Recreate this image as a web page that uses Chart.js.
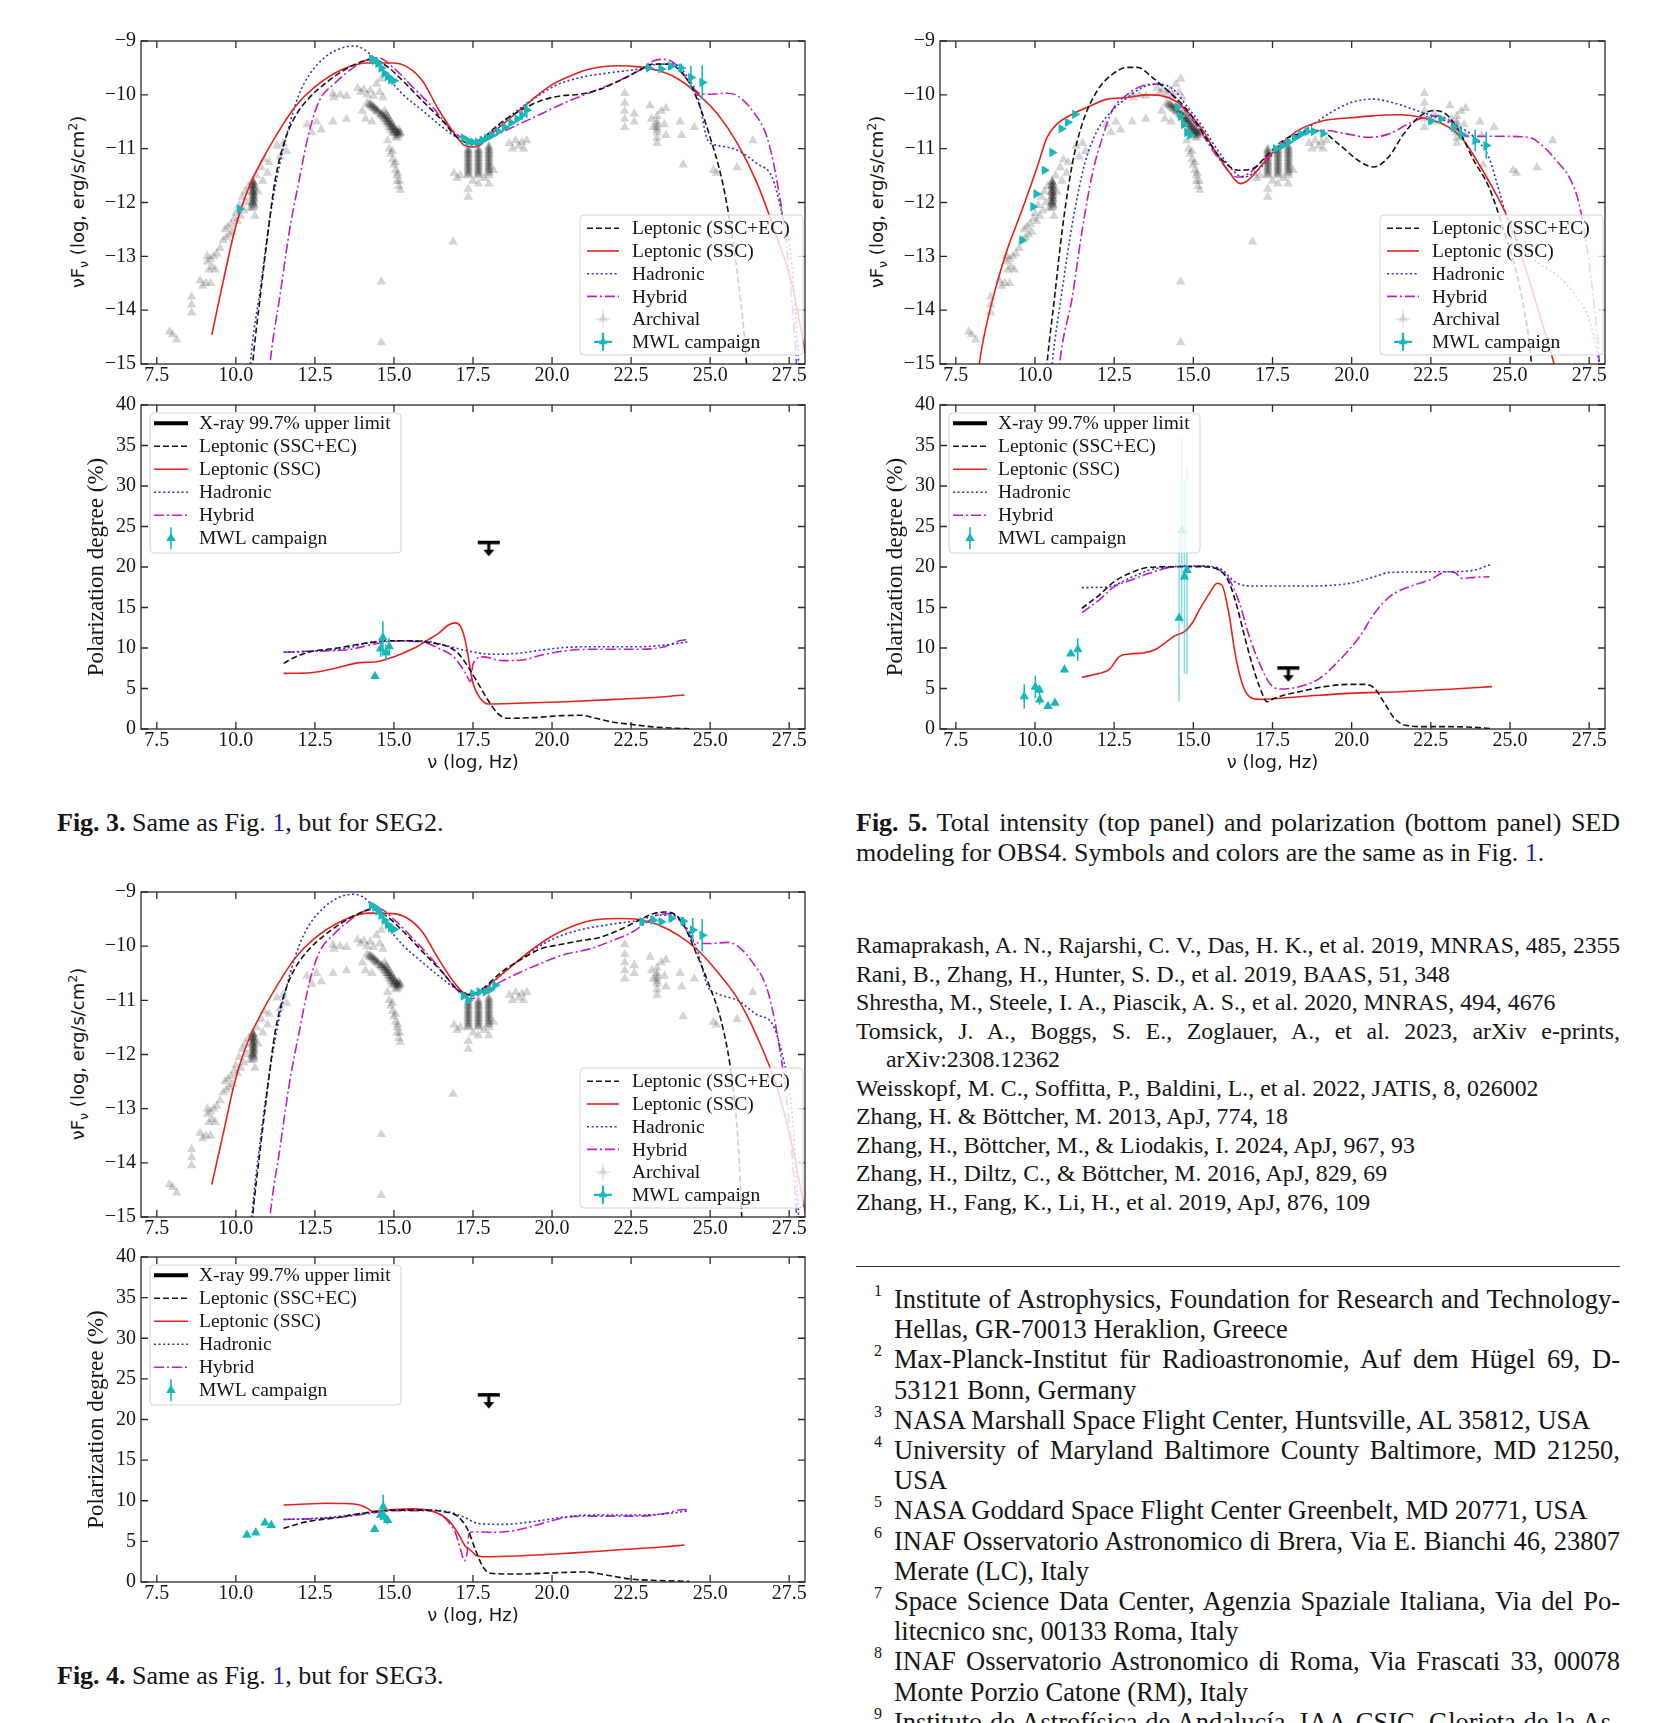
<!DOCTYPE html>
<html>
<head>
<meta charset="utf-8">
<title>SED and polarization modeling: SEG2, SEG3, OBS4</title>
<script src="https://cdn.jsdelivr.net/npm/chart.js@4.4.0/dist/chart.umd.min.js"></script>
<style>
  html, body { margin: 0; padding: 0; background: #fff; }
  body { width: 1662px; height: 1723px; position: relative; overflow: hidden; font-family: 'Liberation Serif', serif; color: #151515; }
  canvas.panel { position: absolute; }
  .ytitle { position: absolute; font-family: 'DejaVu Sans', sans-serif; font-size: 18px; white-space: nowrap; transform: translate(-50%, -50%) rotate(-90deg); }
  .ytitle sub, .ytitle sup { font-size: 70%; line-height: 0; }
  .cap { position: absolute; font-size: 26px; line-height: 30px; white-space: nowrap; }
  .cap div { white-space: nowrap; }
  .lnk { color: #1f1fb4; }
  .j { text-align: justify; text-align-last: justify; white-space: normal !important; }
  #refs { position: absolute; left: 856px; top: 931px; width: 764px; font-size: 23.8px; line-height: 28.5px; }
  #refs div { white-space: nowrap; }
  #refs .ind { padding-left: 30px; }
  #rule { position: absolute; left: 856px; top: 1266px; width: 764px; height: 1px; background: #333; }
  #fns { position: absolute; left: 894px; top: 1284px; width: 726px; font-size: 26.5px; line-height: 30.2px; }
  #fns div { white-space: nowrap; }
  #fns .fn { position: relative; }
  #fns .n { position: absolute; left: -20px; top: -8px; font-size: 16px; }
</style>
</head>
<body>

<div class="ytitle" style="left:77px;top:202px">νF<sub>ν</sub> (log, erg/s/cm<sup>2</sup>)</div>
<div class="ytitle" style="left:876px;top:202px">νF<sub>ν</sub> (log, erg/s/cm<sup>2</sup>)</div>
<div class="ytitle" style="left:77px;top:1054px">νF<sub>ν</sub> (log, erg/s/cm<sup>2</sup>)</div>

<div class="cap" style="left:57px;top:808px"><b>Fig. 3.</b> Same as Fig. <span class="lnk">1</span>, but for SEG2.</div>
<div class="cap" style="left:57px;top:1661px"><b>Fig. 4.</b> Same as Fig. <span class="lnk">1</span>, but for SEG3.</div>
<div class="cap" style="left:856px;top:808px;width:764px">
  <div class="j"><b>Fig. 5.</b> Total intensity (top panel) and polarization (bottom panel) SED</div>
  <div>modeling for OBS4. Symbols and colors are the same as in Fig. <span class="lnk">1</span>.</div>
</div>

<div id="refs">
  <div class="j">Ramaprakash, A. N., Rajarshi, C. V., Das, H. K., et al. 2019, MNRAS, 485, 2355</div>
  <div>Rani, B., Zhang, H., Hunter, S. D., et al. 2019, BAAS, 51, 348</div>
  <div>Shrestha, M., Steele, I. A., Piascik, A. S., et al. 2020, MNRAS, 494, 4676</div>
  <div class="j">Tomsick, J. A., Boggs, S. E., Zoglauer, A., et al. 2023, arXiv e-prints,</div>
  <div class="ind">arXiv:2308.12362</div>
  <div>Weisskopf, M. C., Soffitta, P., Baldini, L., et al. 2022, JATIS, 8, 026002</div>
  <div>Zhang, H. &amp; Böttcher, M. 2013, ApJ, 774, 18</div>
  <div>Zhang, H., Böttcher, M., &amp; Liodakis, I. 2024, ApJ, 967, 93</div>
  <div>Zhang, H., Diltz, C., &amp; Böttcher, M. 2016, ApJ, 829, 69</div>
  <div>Zhang, H., Fang, K., Li, H., et al. 2019, ApJ, 876, 109</div>
</div>

<div id="rule"></div>

<div id="fns">
  <div class="fn"><span class="n">1</span><div class="j">Institute of Astrophysics, Foundation for Research and Technology-</div><div>Hellas, GR-70013 Heraklion, Greece</div></div>
  <div class="fn"><span class="n">2</span><div class="j">Max-Planck-Institut für Radioastronomie, Auf dem Hügel 69, D-</div><div>53121 Bonn, Germany</div></div>
  <div class="fn"><span class="n">3</span><div>NASA Marshall Space Flight Center, Huntsville, AL 35812, USA</div></div>
  <div class="fn"><span class="n">4</span><div class="j">University of Maryland Baltimore County Baltimore, MD 21250,</div><div>USA</div></div>
  <div class="fn"><span class="n">5</span><div>NASA Goddard Space Flight Center Greenbelt, MD 20771, USA</div></div>
  <div class="fn"><span class="n">6</span><div class="j">INAF Osservatorio Astronomico di Brera, Via E. Bianchi 46, 23807</div><div>Merate (LC), Italy</div></div>
  <div class="fn"><span class="n">7</span><div class="j">Space Science Data Center, Agenzia Spaziale Italiana, Via del Po-</div><div>litecnico snc, 00133 Roma, Italy</div></div>
  <div class="fn"><span class="n">8</span><div class="j">INAF Osservatorio Astronomico di Roma, Via Frascati 33, 00078</div><div>Monte Porzio Catone (RM), Italy</div></div>
  <div class="fn"><span class="n">9</span><div class="j">Instituto de Astrofísica de Andalucía, IAA-CSIC, Glorieta de la As-</div></div>
</div>

<script>
// x = log10(nu / Hz); SED panels: log10(nuFnu / erg s^-1 cm^-2); polarization panels: PD in %
const xTicks = [7.5, 10, 12.5, 15, 17.5, 20, 22.5, 25, 27.5];
const sedTicks = [-15, -14, -13, -12, -11, -10, -9];
const polTicks = [0, 5, 10, 15, 20, 25, 30, 35, 40];

// archival data (same in every SED panel); dense stacks
const archival = [
  [7.9,-14.4],[8.0,-14.45],[8.13,-14.55],[8.6,-13.75],[8.6,-13.9],[8.6,-14.05],[8.87,-13.45],[8.95,-13.55],[9.05,-13.5],
  [9.1,-13.0],[9.15,-13.25],[9.2,-13.05],[9.25,-13.2],[9.3,-13.0],[9.35,-13.25],[9.4,-12.95],[9.1,-13.1],[9.2,-13.5],
  [9.5,-12.85],[9.6,-12.7],[9.66,-12.5],[9.7,-12.65],[9.75,-12.45],[9.8,-12.6],[9.85,-12.4],[9.9,-12.55],[9.95,-12.3],
  [10.0,-12.2],[10.05,-12.35],[10.1,-12.05],[10.15,-12.25],[10.2,-11.9],[10.25,-12.15],[10.3,-11.8],[10.35,-12.0],
  [10.4,-11.7],[10.45,-12.1],[10.6,-12.25],[10.65,-11.5],[10.7,-11.8],[10.8,-11.35],[10.85,-11.6],[10.9,-11.2],
  [11.0,-11.45],[11.05,-11.25],[11.3,-10.95],[11.4,-11.15],[11.5,-10.9],[11.6,-11.05],[12.25,-10.55],[12.4,-10.7],
  [12.55,-10.5],[12.7,-10.65],[13.07,-9.98],[13.1,-10.05],[13.07,-10.5],[13.3,-10.0],[13.5,-10.02],[13.5,-10.45],
  [13.85,-9.88],[13.95,-9.95],[14.05,-9.9],[14.15,-10.0],[14.25,-9.92],[14.35,-10.02],[14.0,-10.3],[14.1,-10.45],
  [14.3,-10.5],[14.45,-9.8],[14.55,-9.95],[14.6,-9.7],[14.65,-10.05],
  // radio stack at 10.55
  [10.53,-11.6],[10.57,-11.65],[10.53,-11.7],[10.57,-11.75],[10.53,-11.8],[10.57,-11.85],[10.53,-11.9],[10.57,-11.95],
  [10.53,-12.0],[10.57,-12.05],[10.53,-12.1],[10.55,-11.62],[10.55,-11.72],[10.55,-11.82],[10.55,-11.92],[10.55,-12.02],
  [10.55,-11.68],[10.55,-11.78],[10.55,-11.88],[10.55,-11.98],[10.54,-11.63],[10.56,-11.73],[10.54,-11.83],[10.56,-11.93],
  [10.54,-12.03],[10.56,-11.68],[10.54,-11.78],[10.56,-11.88],[10.54,-11.98],[10.56,-12.08],
  // optical/UV chain 14.15 - 15.2
  [14.15,-10.15],[14.2,-10.18],[14.25,-10.2],[14.3,-10.22],[14.35,-10.25],[14.4,-10.27],[14.45,-10.3],[14.5,-10.32],
  [14.55,-10.35],[14.6,-10.38],[14.65,-10.4],[14.7,-10.3],[14.7,-10.45],[14.75,-10.35],[14.75,-10.5],[14.8,-10.4],
  [14.8,-10.55],[14.85,-10.45],[14.85,-10.6],[14.9,-10.5],[14.9,-10.65],[14.95,-10.55],[14.95,-10.7],[15.0,-10.6],
  [15.0,-10.72],[15.05,-10.65],[15.05,-10.78],[15.1,-10.7],[15.1,-10.8],[15.15,-10.75],[15.15,-10.65],[15.2,-10.7],
  [14.72,-10.4],[14.78,-10.45],[14.82,-10.5],[14.88,-10.55],[14.92,-10.6],[14.98,-10.65],[15.02,-10.68],[15.08,-10.72],
  [15.12,-10.75],[15.18,-10.72],[14.3,-10.2],[14.4,-10.25],[14.5,-10.3],[14.6,-10.35],[14.62,-10.36],[14.68,-10.42],
  [14.74,-10.46],[14.8,-10.5],[14.86,-10.53],[14.92,-10.58],[14.98,-10.62],[15.04,-10.66],[15.1,-10.68],[15.16,-10.7],
  [14.45,-10.28],[14.35,-10.22],[14.25,-10.17],
  [14.8,-10.85],[14.85,-11.0],[14.9,-11.1],[14.95,-11.2],[15.0,-11.3],[15.05,-11.4],[15.1,-11.5],[15.1,-11.6],
  [15.15,-11.7],[15.2,-11.77],[14.95,-11.05],[15.05,-11.25],[15.12,-11.45],[15.18,-11.6],
  // outliers
  [14.6,-13.47],[14.6,-14.6],[16.87,-12.73],
  // X-ray stacks at 17.35, 17.67, 18.0
  [17.35,-11.0],[17.35,-11.05],[17.35,-11.1],[17.35,-11.15],[17.35,-11.2],[17.35,-11.25],[17.35,-11.3],[17.35,-11.35],
  [17.35,-11.4],[17.35,-11.45],[17.35,-11.5],[17.67,-11.0],[17.67,-11.05],[17.67,-11.1],[17.67,-11.15],[17.67,-11.2],
  [17.67,-11.25],[17.67,-11.3],[17.67,-11.35],[17.67,-11.4],[17.67,-11.45],[17.67,-11.5],[18.0,-10.95],[18.0,-11.0],
  [18.0,-11.05],[18.0,-11.1],[18.0,-11.15],[18.0,-11.2],[18.0,-11.25],[18.0,-11.3],[18.0,-11.35],[18.0,-11.4],
  [18.0,-11.45],[18.0,-11.5],[17.35,-11.12],[17.35,-11.28],[17.67,-11.12],[17.67,-11.28],[18.0,-11.12],[18.0,-11.28],
  [17.35,-11.03],[17.35,-11.08],[17.35,-11.18],[17.35,-11.23],[17.35,-11.33],[17.35,-11.38],[17.35,-11.43],[17.35,-11.48],
  [17.67,-11.03],[17.67,-11.08],[17.67,-11.18],[17.67,-11.23],[17.67,-11.33],[17.67,-11.38],[17.67,-11.43],[17.67,-11.48],
  [18.0,-10.98],[18.0,-11.03],[18.0,-11.08],[18.0,-11.18],[18.0,-11.23],[18.0,-11.33],[18.0,-11.38],[18.0,-11.43],
  [16.9,-11.45],[17.0,-11.55],[17.1,-11.5],[17.35,-11.75],[17.35,-11.9],[17.5,-11.6],[17.67,-11.65],[17.85,-11.55],
  [18.0,-11.65],[18.15,-11.4],
  [18.65,-10.9],[18.75,-11.0],[18.85,-10.85],[18.95,-10.95],[19.05,-10.88],[19.2,-10.85],[19.1,-11.0],
  // gamma rays
  [22.3,-9.97],[22.3,-10.15],[22.3,-10.3],[22.3,-10.45],[22.3,-10.6],[22.6,-10.35],[22.6,-10.5],
  [23.1,-10.2],[23.15,-10.45],[23.2,-10.6],[23.32,-10.4],[23.32,-10.5],[23.32,-10.6],[23.32,-10.7],[23.32,-10.8],
  [23.32,-10.9],[23.32,-10.55],[23.32,-10.65],[23.45,-10.3],[23.55,-10.55],[23.6,-10.25],[23.6,-10.75],[24.05,-10.5],
  [24.1,-10.75],[24.15,-11.3],[24.5,-10.6],[25.1,-11.4],[25.2,-11.45],[25.85,-11.35],[26.35,-10.85]
];

// ---- SEG2 (Fig. 3) ----
const seg2SedSscEc = [[10.45,-15.6],[10.53,-15.0],[10.77,-13.75],[11.0,-12.64],[11.24,-11.59],[11.55,-10.85],[11.86,-10.42],[12.33,-10.05],[12.8,-9.8],[13.4,-9.55],[14.04,-9.37],[14.35,-9.34],[14.82,-9.49],[15.28,-9.74],[15.9,-10.11],[16.53,-10.48],[17.0,-10.79],[17.46,-10.91],[17.77,-10.82],[18.4,-10.51],[19.0,-10.29],[19.64,-10.11],[20.26,-10.02],[20.88,-9.99],[21.5,-9.9],[22.13,-9.74],[22.75,-9.55],[23.2,-9.43],[23.7,-9.43],[24.15,-9.62],[24.47,-9.92],[24.93,-10.66],[25.4,-11.65],[25.7,-12.64],[25.95,-13.75],[26.15,-15.0],[26.2,-15.6]];
const seg2SedSsc = [[9.24,-14.46],[9.45,-13.87],[9.68,-13.25],[9.91,-12.64],[10.15,-12.14],[10.46,-11.65],[10.77,-11.28],[11.24,-10.79],[11.86,-10.23],[12.48,-9.86],[13.4,-9.52],[14.19,-9.41],[14.97,-9.41],[15.44,-9.49],[15.9,-9.74],[16.37,-10.23],[16.84,-10.66],[17.23,-10.94],[17.46,-10.97],[17.7,-10.94],[18.08,-10.73],[18.7,-10.42],[19.33,-10.11],[19.95,-9.83],[20.57,-9.65],[21.2,-9.52],[22.13,-9.46],[22.75,-9.48],[23.37,-9.55],[24.0,-9.71],[24.62,-9.99],[25.24,-10.36],[25.87,-10.91],[26.49,-11.65],[27.11,-12.64],[27.58,-13.5],[27.97,-14.67],[28.1,-15.1]];
const seg2SedHad = [[10.4,-15.6],[10.46,-15.0],[10.77,-13.62],[11.08,-12.27],[11.39,-11.28],[11.7,-10.54],[12.0,-9.99],[12.33,-9.62],[12.8,-9.31],[13.26,-9.15],[13.73,-9.09],[14.04,-9.15],[14.35,-9.31],[14.82,-9.68],[15.28,-9.99],[15.9,-10.29],[16.53,-10.6],[17.0,-10.79],[17.46,-10.85],[17.93,-10.76],[18.55,-10.45],[19.33,-10.11],[20.1,-9.83],[20.88,-9.68],[21.82,-9.59],[22.75,-9.52],[23.37,-9.43],[23.85,-9.43],[24.3,-9.68],[24.62,-10.05],[24.93,-10.85],[25.24,-10.94],[25.87,-11.03],[26.49,-11.28],[26.96,-11.53],[27.27,-12.2],[27.58,-13.13],[27.8,-15.0],[27.85,-15.6]];
const seg2SedHyb = [[11.0,-15.6],[11.08,-15.0],[11.39,-13.75],[11.7,-12.51],[12.0,-11.59],[12.33,-10.66],[12.64,-10.11],[13.1,-9.8],[13.73,-9.49],[14.19,-9.34],[14.5,-9.31],[14.97,-9.49],[15.6,-9.86],[16.22,-10.23],[16.84,-10.66],[17.3,-10.85],[17.6,-10.91],[18.08,-10.79],[18.86,-10.57],[19.64,-10.36],[20.42,-10.14],[21.2,-9.96],[21.98,-9.77],[22.75,-9.55],[23.2,-9.37],[23.5,-9.34],[23.9,-9.43],[24.3,-9.74],[24.62,-9.96],[24.93,-9.99],[25.55,-9.97],[25.87,-10.02],[26.33,-10.29],[26.8,-10.79],[27.11,-11.59],[27.42,-12.83],[27.66,-14.37],[27.73,-15.0],[27.76,-15.6]];
const seg2SedMwl = [[10.12,-12.12],[14.3,-9.33],[14.4,-9.36],[14.5,-9.42],[14.6,-9.5],[14.7,-9.6],[14.8,-9.66],[14.9,-9.72],[15.0,-9.74],[17.2,-10.8],[17.35,-10.86],[17.5,-10.88],[17.65,-10.88],[17.8,-10.84],[17.95,-10.8],[18.1,-10.75],[18.3,-10.68],[18.5,-10.6],[18.7,-10.52],[18.9,-10.45],[19.05,-10.38],[19.2,-10.28],[23.05,-9.5],[23.45,-9.52],[23.75,-9.47],[24.08,-9.5],[24.39,-9.68],[24.75,-9.77]];
const seg2SedMwlErr = [0.05,0.04,0.04,0.04,0.04,0.04,0.04,0.04,0.04,0.05,0.05,0.05,0.05,0.05,0.05,0.05,0.05,0.05,0.06,0.06,0.08,0.15,0.05,0.06,0.06,0.08,0.22,0.32];
const seg2PolSscEc = [[11.51,8.1],[11.9,8.93],[12.37,9.55],[13.15,9.96],[14.08,10.58],[15.01,10.9],[15.63,10.9],[16.26,10.58],[16.72,10.16],[17.03,9.34],[17.34,7.7],[17.66,5.64],[17.97,3.58],[18.28,1.93],[18.59,1.32],[19.37,1.4],[20.3,1.65],[20.92,1.69],[21.39,1.32],[21.85,0.9],[22.48,0.58],[23.1,0.29],[23.72,0.12],[24.34,0.04]];
const seg2PolSsc = [[11.51,6.87],[12.37,6.95],[13.15,7.5],[13.93,8.2],[14.39,8.27],[15.01,8.93],[15.63,9.96],[16.1,11.07],[16.41,11.81],[16.72,12.84],[16.95,13.1],[17.1,12.7],[17.25,11.0],[17.38,8.2],[17.5,5.64],[17.73,3.79],[17.97,3.09],[18.9,3.17],[20.45,3.37],[22.0,3.66],[23.56,3.99],[24.19,4.2]];
const seg2PolHad = [[11.51,9.47],[12.52,9.63],[13.46,9.96],[14.39,10.78],[15.01,10.9],[15.94,10.9],[16.57,10.37],[17.34,9.63],[18.12,9.22],[18.9,9.34],[19.68,9.75],[20.45,10.08],[21.23,10.16],[22.79,10.16],[23.56,10.37],[24.34,10.78]];
const seg2PolHyb = [[11.51,9.47],[12.52,9.63],[13.46,9.75],[14.39,10.49],[15.01,10.86],[15.94,10.7],[16.41,9.96],[16.88,8.93],[17.27,6.87],[17.42,5.84],[17.5,8.0],[17.81,8.9],[18.43,8.44],[19.06,8.52],[19.68,9.14],[20.45,9.67],[21.23,9.84],[22.79,9.84],[23.56,10.16],[24.03,10.9],[24.34,11.07]];
const seg2PolMwl = [[14.4,6.5],[14.58,9.9],[14.65,11.3],[14.75,9.4],[14.85,10.2]];
const seg2PolMwlErr = [0.3,1.0,2.0,1.0,1.0];
const seg2PolLimit = [[18.0,23.0]];

// ---- SEG3 (Fig. 4) ----
const seg3SedSscEc = [[10.45,-15.6],[10.53,-15.0],[10.77,-13.75],[11.0,-12.64],[11.24,-11.59],[11.55,-10.85],[11.86,-10.42],[12.33,-10.05],[12.8,-9.8],[13.4,-9.55],[14.04,-9.36],[14.35,-9.32],[14.82,-9.47],[15.28,-9.72],[15.9,-10.1],[16.53,-10.48],[17.0,-10.8],[17.4,-10.9],[17.77,-10.8],[18.4,-10.48],[19.0,-10.25],[19.64,-10.05],[20.26,-9.97],[20.88,-9.9],[21.5,-9.84],[22.13,-9.7],[22.75,-9.52],[23.2,-9.4],[23.55,-9.37],[23.9,-9.42],[24.2,-9.65],[24.5,-10.05],[24.93,-10.66],[25.4,-11.5],[25.7,-12.5],[25.9,-13.75],[26.0,-15.0],[26.05,-15.6]];
const seg3SedSsc = [[9.24,-14.4],[9.45,-13.85],[9.68,-13.25],[9.91,-12.64],[10.15,-12.14],[10.46,-11.65],[10.77,-11.28],[11.24,-10.79],[11.86,-10.23],[12.48,-9.86],[13.4,-9.52],[14.19,-9.39],[14.97,-9.4],[15.44,-9.49],[15.9,-9.74],[16.37,-10.2],[16.84,-10.62],[17.2,-10.86],[17.45,-10.9],[17.7,-10.86],[18.08,-10.68],[18.7,-10.38],[19.33,-10.08],[19.95,-9.83],[20.57,-9.65],[21.2,-9.53],[22.13,-9.49],[22.75,-9.51],[23.37,-9.61],[24.0,-9.8],[24.62,-10.08],[25.24,-10.48],[25.87,-10.97],[26.49,-11.68],[27.11,-12.6],[27.58,-13.65],[27.97,-14.8],[28.1,-15.2]];
const seg3SedHad = [[10.42,-15.6],[10.5,-15.0],[10.77,-13.6],[11.08,-12.27],[11.39,-11.28],[11.7,-10.54],[12.0,-9.99],[12.33,-9.6],[12.8,-9.28],[13.26,-9.1],[13.73,-9.04],[14.04,-9.1],[14.35,-9.28],[14.82,-9.66],[15.28,-9.98],[15.9,-10.3],[16.53,-10.6],[17.0,-10.8],[17.46,-10.88],[17.93,-10.76],[18.55,-10.45],[19.33,-10.1],[20.1,-9.85],[20.88,-9.7],[21.82,-9.6],[22.75,-9.52],[23.37,-9.43],[23.85,-9.43],[24.3,-9.7],[24.62,-10.13],[24.93,-10.75],[25.24,-10.88],[25.87,-11.0],[26.49,-11.27],[26.96,-11.43],[27.27,-11.98],[27.58,-13.0],[27.8,-15.0],[27.85,-15.6]];
const seg3SedHyb = [[11.0,-15.6],[11.08,-15.0],[11.39,-13.75],[11.7,-12.51],[12.0,-11.59],[12.33,-10.66],[12.64,-10.11],[13.1,-9.78],[13.73,-9.47],[14.19,-9.32],[14.5,-9.3],[14.97,-9.49],[15.6,-9.86],[16.22,-10.25],[16.84,-10.7],[17.2,-10.92],[17.46,-10.97],[17.8,-10.85],[18.4,-10.65],[19.0,-10.48],[19.64,-10.32],[20.42,-10.15],[21.2,-10.05],[21.98,-9.88],[22.44,-9.77],[22.9,-9.6],[23.37,-9.42],[23.7,-9.4],[24.0,-9.5],[24.3,-9.75],[24.5,-9.93],[25.0,-9.95],[25.55,-9.93],[25.87,-10.0],[26.33,-10.29],[26.8,-10.79],[27.11,-11.59],[27.42,-12.83],[27.66,-14.37],[27.73,-15.0],[27.76,-15.6]];
const seg3SedMwl = [[14.3,-9.25],[14.4,-9.28],[14.5,-9.35],[14.6,-9.43],[14.7,-9.52],[14.8,-9.6],[14.9,-9.66],[15.0,-9.69],[17.2,-10.92],[17.35,-11.0],[17.5,-10.88],[17.7,-10.84],[17.9,-10.84],[18.05,-10.8],[18.2,-10.72],[22.85,-9.55],[23.2,-9.52],[23.45,-9.55],[23.77,-9.49],[24.15,-9.54],[24.45,-9.7],[24.75,-9.8]];
const seg3SedMwlErr = [0.05,0.04,0.04,0.04,0.04,0.04,0.04,0.04,0.06,0.06,0.05,0.05,0.05,0.05,0.05,0.05,0.05,0.06,0.06,0.08,0.22,0.3];
const seg3PolSscEc = [[11.51,6.6],[12.21,7.4],[13.15,7.9],[14.08,8.5],[15.01,8.85],[15.94,8.85],[16.57,8.65],[17.03,8.03],[17.34,6.4],[17.58,3.93],[17.81,1.89],[18.04,1.07],[18.9,0.98],[20.45,1.19],[21.07,1.23],[21.7,0.86],[22.48,0.37],[23.57,0.16],[24.34,0.08]];
const seg3PolSsc = [[11.51,9.47],[12.21,9.6],[12.83,9.7],[13.46,9.67],[13.92,9.47],[14.16,9.06],[14.31,8.7],[15.01,8.93],[15.63,9.0],[16.26,8.65],[16.72,7.62],[17.03,5.98],[17.27,4.34],[17.42,3.93],[17.58,3.32],[17.81,3.11],[18.9,3.2],[20.45,3.52],[22.01,3.93],[23.57,4.34],[24.19,4.55]];
const seg3PolHad = [[11.51,7.7],[12.52,7.83],[13.46,8.16],[14.39,8.65],[15.01,8.85],[15.94,8.85],[16.72,8.65],[17.19,8.03],[17.66,7.21],[18.43,7.09],[19.37,7.42],[20.45,8.03],[21.23,8.24],[22.79,8.24],[23.72,8.44],[24.34,8.77]];
const seg3PolHyb = [[11.51,7.7],[12.52,7.79],[13.46,8.03],[14.39,8.52],[15.01,8.77],[15.94,8.77],[16.41,8.44],[16.72,7.42],[16.95,5.98],[17.11,3.93],[17.23,2.62],[17.31,3.52],[17.38,5.98],[17.5,6.19],[18.12,6.11],[18.9,6.39],[19.68,7.21],[20.45,7.95],[21.23,8.11],[22.79,8.11],[23.57,8.44],[24.19,8.93],[24.34,8.85]];
const seg3PolMwl = [[10.35,5.78],[10.63,6.07],[10.92,7.3],[11.12,7.0],[14.39,6.48],[14.58,8.24],[14.66,9.26],[14.7,8.0],[14.8,7.6]];
const seg3PolMwlErr = [0.2,0.2,0.3,0.3,0.2,0.6,1.5,0.6,0.5];
const seg3PolLimit = [[18.0,23.0]];

// ---- OBS4 (Fig. 5) ----
const obs4SedSscEc = [[10.3,-15.6],[10.38,-15.0],[10.62,-13.75],[10.86,-12.51],[11.18,-11.28],[11.49,-10.54],[11.97,-9.92],[12.44,-9.62],[12.92,-9.49],[13.24,-9.49],[13.71,-9.68],[14.19,-9.92],[14.82,-10.29],[15.46,-10.85],[15.93,-11.22],[16.41,-11.4],[16.88,-11.37],[17.36,-11.1],[17.83,-10.85],[18.47,-10.7],[18.94,-10.66],[19.58,-10.91],[20.21,-11.22],[20.69,-11.34],[21.16,-11.16],[21.64,-10.73],[22.11,-10.42],[22.59,-10.29],[22.98,-10.36],[23.38,-10.66],[23.86,-11.22],[24.33,-11.71],[24.8,-12.51],[25.28,-13.5],[25.68,-15.0],[25.75,-15.6]];
const obs4SedSsc = [[8.1,-15.8],[8.24,-15.0],[8.48,-14.24],[8.8,-13.5],[9.12,-12.88],[9.59,-12.14],[10.07,-11.34],[10.38,-10.79],[10.7,-10.54],[11.18,-10.36],[11.65,-10.23],[12.29,-10.08],[12.92,-10.05],[13.55,-10.0],[14.03,-10.02],[14.5,-10.14],[14.98,-10.42],[15.3,-10.66],[15.61,-10.97],[16.09,-11.4],[16.49,-11.65],[16.72,-11.59],[17.2,-11.28],[17.67,-10.97],[18.31,-10.66],[19.1,-10.48],[19.89,-10.43],[20.69,-10.39],[21.48,-10.37],[22.27,-10.43],[23.06,-10.6],[23.54,-10.85],[24.01,-11.28],[24.49,-11.77],[24.96,-12.33],[25.44,-13.13],[25.92,-14.06],[26.39,-15.0],[26.5,-15.3]];
const obs4SedHad = [[10.45,-15.6],[10.54,-15.0],[10.86,-13.62],[11.18,-12.39],[11.57,-11.28],[11.97,-10.66],[12.44,-10.29],[12.92,-10.05],[13.4,-9.86],[13.87,-9.8],[14.35,-9.89],[14.82,-10.23],[15.3,-10.6],[15.77,-11.03],[16.25,-11.4],[16.56,-11.53],[17.04,-11.4],[17.52,-11.1],[18.15,-10.82],[18.78,-10.55],[19.42,-10.3],[20.05,-10.13],[20.69,-10.08],[21.32,-10.15],[21.95,-10.27],[22.59,-10.4],[23.22,-10.55],[23.86,-10.78],[24.33,-11.16],[24.65,-11.77],[24.96,-12.39],[25.44,-12.88],[25.92,-13.13],[26.55,-13.38],[27.02,-13.69],[27.5,-14.18],[27.82,-15.0],[27.9,-15.4]];
const obs4SedHyb = [[10.7,-15.6],[10.78,-15.0],[11.18,-13.75],[11.49,-12.51],[11.81,-11.47],[12.13,-10.79],[12.44,-10.29],[12.92,-9.99],[13.4,-9.83],[13.87,-9.8],[14.19,-9.92],[14.66,-10.23],[15.14,-10.6],[15.77,-11.16],[16.41,-11.53],[16.72,-11.47],[17.2,-11.22],[17.83,-10.91],[18.47,-10.73],[19.1,-10.66],[19.89,-10.73],[20.53,-10.79],[21.16,-10.73],[21.79,-10.54],[22.27,-10.42],[22.75,-10.39],[23.22,-10.54],[23.54,-10.76],[24.01,-10.77],[24.65,-10.77],[25.6,-10.79],[26.07,-10.97],[26.55,-11.28],[26.87,-11.53],[27.18,-12.02],[27.5,-13.13],[27.74,-14.37],[27.82,-15.0],[27.86,-15.6]];
const obs4SedMwl = [[9.59,-12.7],[9.94,-12.08],[10.04,-11.84],[10.3,-11.4],[10.54,-11.07],[10.83,-10.63],[11.03,-10.51],[11.26,-10.36],[14.5,-10.23],[14.6,-10.4],[14.7,-10.55],[14.8,-10.7],[14.9,-10.75],[17.6,-11.0],[17.8,-10.95],[18.0,-10.88],[18.2,-10.8],[18.4,-10.73],[18.6,-10.68],[18.8,-10.68],[19.1,-10.72],[22.5,-10.48],[22.82,-10.45],[23.22,-10.6],[23.46,-10.73],[23.9,-10.85],[24.25,-10.94]];
const obs4SedMwlErr = [0.06,0.06,0.06,0.06,0.06,0.06,0.05,0.06,0.05,0.05,0.05,0.05,0.05,0.05,0.05,0.05,0.05,0.05,0.05,0.05,0.05,0.07,0.07,0.08,0.1,0.2,0.25];
const obs4PolSscEc = [[11.48,14.9],[12.03,16.54],[12.5,18.2],[12.98,19.2],[13.61,19.96],[14.4,20.04],[15.19,20.04],[15.83,19.6],[16.14,17.98],[16.38,15.1],[16.62,11.4],[16.85,8.1],[17.09,5.23],[17.33,3.37],[17.56,3.79],[17.88,4.2],[18.35,4.6],[19.14,5.23],[19.93,5.51],[20.41,5.51],[20.72,5.02],[21.04,3.17],[21.35,1.32],[21.67,0.49],[22.3,0.29],[23.09,0.29],[23.88,0.2],[24.43,0.04]];
const obs4PolSsc = [[11.48,6.38],[12.03,6.87],[12.35,7.37],[12.66,8.93],[12.98,9.26],[13.46,9.42],[13.77,9.75],[14.09,10.58],[14.4,11.48],[14.72,12.02],[14.96,13.05],[15.19,14.7],[15.51,16.75],[15.75,17.98],[15.9,17.78],[16.14,13.87],[16.3,9.75],[16.54,5.64],[16.77,3.99],[17.09,3.66],[18.35,3.99],[19.93,4.4],[21.51,4.6],[23.09,4.9],[24.43,5.23]];
const obs4PolHad = [[11.48,17.45],[12.35,17.57],[12.98,18.6],[13.61,19.63],[14.4,20.04],[15.19,20.12],[15.83,19.84],[16.3,18.2],[16.77,17.65],[18.35,17.65],[19.93,17.98],[20.72,18.8],[21.2,19.33],[23.09,19.42],[23.88,19.63],[24.43,20.37]];
const obs4PolHyb = [[11.48,14.36],[12.03,15.93],[12.5,17.57],[12.98,18.31],[13.61,19.22],[14.4,20.04],[15.19,20.12],[15.83,19.63],[16.14,18.4],[16.46,15.51],[16.77,11.4],[17.09,8.1],[17.41,5.64],[17.72,4.94],[18.35,5.23],[18.99,6.26],[19.62,8.52],[20.25,11.4],[20.72,14.28],[21.2,16.34],[21.83,17.57],[22.46,18.4],[23.01,19.42],[23.25,19.33],[23.49,18.6],[23.88,18.72],[24.35,18.8]];
const obs4PolMwl = [[9.66,4.0],[10.01,5.2],[10.14,4.8],[10.15,3.6],[10.41,2.8],[10.63,3.2],[10.93,7.3],[11.13,9.3],[11.35,9.8],[14.55,13.7],[14.63,24.5],[14.72,18.8],[14.8,19.6]];
const obs4PolMwlErr = [1.5,1.4,0.6,0.6,0.3,0.3,0.3,0.3,1.4,10.3,11.5,12.0,12.8];
const obs4PolLimit = [[18.0,7.5]];

// ---- styles ----
const tickFont = { family: 'Liberation Serif', size: 20 };
const cyan = '#18b8b8';
const archFill = 'rgba(25,25,25,0.19)';
const lineStyle = {
  sscec: { color: '#141414', dash: [6, 3] },
  ssc: { color: '#e3231b', dash: [] },
  had: { color: '#2e2ed4', dash: [2, 2.6] },
  hyb: { color: '#c21ec2', dash: [10, 3, 2, 3] }
};

const xy = arr => arr.map(([x, y]) => ({ x, y }));

function curve(label, data, st, lg) {
  return { type: 'line', label, lg, kind: 'line', data: xy(data), borderColor: st.color, backgroundColor: st.color,
    borderDash: st.dash, borderWidth: 1.6, pointRadius: 0, fill: false, cubicInterpolationMode: 'monotone' };
}

function mwl(data, err, polar) {
  return { type: 'scatter', label: 'MWL campaign', lg: 6, kind: polar ? 'mwlPol' : 'mwlSed', data: xy(data), errY: err,
    pointStyle: 'triangle', rotation: polar ? 0 : 90, pointRadius: 5.5, backgroundColor: cyan, borderColor: cyan, borderWidth: 0 };
}

function archivalSet() {
  return { type: 'scatter', label: 'Archival', lg: 5, kind: 'arch', data: xy(archival),
    pointStyle: 'triangle', pointRadius: 5.5, backgroundColor: archFill, borderWidth: 0 };
}

function limitMark() {
  const c = document.createElement('canvas');
  c.width = 24; c.height = 34;
  const g = c.getContext('2d');
  g.fillStyle = '#000';
  g.fillRect(1, 15, 22, 3.5);
  g.fillRect(10.5, 17, 3, 8);
  g.beginPath(); g.moveTo(6.5, 24); g.lineTo(17.5, 24); g.lineTo(12, 30.5); g.closePath(); g.fill();
  return c;
}

function limitSet(data) {
  return { type: 'scatter', label: 'X-ray 99.7% upper limit', lg: 1, kind: 'limit', data: xy(data),
    pointStyle: limitMark(), pointRadius: 12, backgroundColor: '#000', borderColor: '#000' };
}

function sedSets(sscec, ssc, had, hyb, pts, err) {
  return [mwl(pts, err, false),
    curve('Leptonic (SSC+EC)', sscec, lineStyle.sscec, 1),
    curve('Leptonic (SSC)', ssc, lineStyle.ssc, 2),
    curve('Hadronic', had, lineStyle.had, 3),
    curve('Hybrid', hyb, lineStyle.hyb, 4),
    archivalSet()];
}

function polSets(sscec, ssc, had, hyb, pts, err, lim) {
  return [limitSet(lim), mwl(pts, err, true),
    curve('Leptonic (SSC+EC)', sscec, lineStyle.sscec, 2),
    curve('Leptonic (SSC)', ssc, lineStyle.ssc, 3),
    curve('Hadronic', had, lineStyle.had, 4),
    curve('Hybrid', hyb, lineStyle.hyb, 5)];
}

// frame + inward ticks on all four sides
const frameTicks = {
  id: 'frameTicks',
  afterDatasetsDraw(chart) {
    const { ctx, chartArea: a, scales: { x, y } } = chart;
    ctx.save();
    ctx.strokeStyle = '#2a2a2a';
    ctx.lineWidth = 1.3;
    ctx.strokeRect(a.left, a.top, a.right - a.left, a.bottom - a.top);
    ctx.beginPath();
    x.ticks.forEach(t => {
      const p = x.getPixelForValue(t.value);
      ctx.moveTo(p, a.bottom); ctx.lineTo(p, a.bottom - 7);
      ctx.moveTo(p, a.top); ctx.lineTo(p, a.top + 7);
    });
    y.ticks.forEach(t => {
      const p = y.getPixelForValue(t.value);
      ctx.moveTo(a.left, p); ctx.lineTo(a.left + 7, p);
      ctx.moveTo(a.right, p); ctx.lineTo(a.right - 7, p);
    });
    ctx.stroke();
    ctx.restore();
  }
};

// vertical error bars
const errBars = {
  id: 'errBars',
  afterDatasetsDraw(chart) {
    const { ctx, chartArea: a, scales: { x, y } } = chart;
    ctx.save();
    ctx.beginPath(); ctx.rect(a.left, a.top, a.right - a.left, a.bottom - a.top); ctx.clip();
    chart.data.datasets.forEach(ds => {
      if (!ds.errY) return;
      ds.data.forEach((p, i) => {
        const e = ds.errY[i];
        if (!e) return;
        const px = x.getPixelForValue(p.x);
        ctx.strokeStyle = e > 5 ? 'rgba(24,184,184,0.5)' : cyan;
        ctx.lineWidth = 1.6;
        ctx.beginPath();
        ctx.moveTo(px, y.getPixelForValue(p.y - e));
        ctx.lineTo(px, y.getPixelForValue(p.y + e));
        ctx.stroke();
      });
    });
    ctx.restore();
  }
};

function tri(ctx, cx, cy, r, color) {
  ctx.fillStyle = color;
  ctx.beginPath();
  ctx.moveTo(cx, cy - r); ctx.lineTo(cx + r * 0.87, cy + r * 0.5); ctx.lineTo(cx - r * 0.87, cy + r * 0.5);
  ctx.closePath(); ctx.fill();
}

// legend box inside the plot area
const boxLegend = {
  id: 'boxLegend',
  afterDraw(chart, args, opts) {
    const { ctx, chartArea: a } = chart;
    const items = chart.data.datasets.filter(d => d.lg).sort((p, q) => p.lg - q.lg);
    let g;
    if (opts.corner === 'lr') {
      g = { bx: a.right - 225, by: a.bottom - 149, bw: 223, bh: 140, y0: a.bottom - 135.7, dy: 22.7, s0: a.right - 218, s1: a.right - 186, tx: a.right - 173 };
    } else {
      g = { bx: a.left + 9, by: a.top + 8, bw: 251, bh: 140, y0: a.top + 18.3, dy: 23, s0: a.left + 13, s1: a.left + 47, tx: a.left + 58 };
    }
    ctx.save();
    ctx.beginPath();
    ctx.roundRect(g.bx, g.by, g.bw, g.bh, 4);
    ctx.fillStyle = 'rgba(255,255,255,0.8)';
    ctx.fill();
    ctx.strokeStyle = '#d4d4d4';
    ctx.lineWidth = 1;
    ctx.stroke();
    ctx.font = '19.5px "Liberation Serif"';
    ctx.textBaseline = 'middle';
    items.forEach((d, i) => {
      const ry = g.y0 + g.dy * i;
      const cx = (g.s0 + g.s1) / 2;
      ctx.setLineDash([]);
      if (d.kind === 'line') {
        ctx.strokeStyle = d.borderColor; ctx.lineWidth = 1.6; ctx.setLineDash(d.borderDash);
        ctx.beginPath(); ctx.moveTo(g.s0, ry); ctx.lineTo(g.s1, ry); ctx.stroke();
        ctx.setLineDash([]);
      } else if (d.kind === 'limit') {
        ctx.strokeStyle = '#000'; ctx.lineWidth = 4;
        ctx.beginPath(); ctx.moveTo(g.s0, ry); ctx.lineTo(g.s1, ry); ctx.stroke();
      } else if (d.kind === 'arch') {
        ctx.strokeStyle = 'rgba(30,30,30,0.12)'; ctx.lineWidth = 1.5;
        ctx.beginPath(); ctx.moveTo(cx - 8, ry); ctx.lineTo(cx + 8, ry); ctx.moveTo(cx, ry - 9); ctx.lineTo(cx, ry + 9); ctx.stroke();
        tri(ctx, cx, ry, 5.5, 'rgba(30,30,30,0.12)');
      } else if (d.kind === 'mwlSed') {
        ctx.strokeStyle = cyan; ctx.lineWidth = 2.2;
        ctx.beginPath(); ctx.moveTo(cx - 9, ry); ctx.lineTo(cx + 9, ry); ctx.moveTo(cx, ry - 9); ctx.lineTo(cx, ry + 9); ctx.stroke();
        tri(ctx, cx, ry, 5, cyan);
      } else if (d.kind === 'mwlPol') {
        ctx.strokeStyle = cyan; ctx.lineWidth = 1.6;
        ctx.beginPath(); ctx.moveTo(cx, ry - 11); ctx.lineTo(cx, ry + 11); ctx.stroke();
        tri(ctx, cx, ry, 5.5, cyan);
      }
      ctx.fillStyle = '#151515';
      ctx.fillText(d.label, g.tx, ry + 1);
    });
    ctx.restore();
  }
};

function panel(box, polar, datasets) {
  const xh = polar ? 50 : 30;
  const cv = document.createElement('canvas');
  cv.className = 'panel';
  cv.width = box.R - box.L + 120;
  cv.height = box.B - box.T + 20 + xh;
  cv.style.left = (box.L - 100) + 'px';
  cv.style.top = (box.T - 20) + 'px';
  document.body.appendChild(cv);
  const yTicks = polar ? polTicks : sedTicks;
  new Chart(cv, {
    type: 'line',
    data: { datasets },
    options: {
      responsive: false, animation: false, events: [], devicePixelRatio: 1,
      layout: { padding: { left: 0, top: 20, right: 20, bottom: 0 } },
      plugins: { legend: { display: false }, tooltip: { enabled: false }, boxLegend: { corner: polar ? 'ul' : 'lr' } },
      scales: {
        x: {
          type: 'linear', min: 7, max: 28,
          afterFit: s => { s.height = xh; },
          afterBuildTicks: s => { s.ticks = xTicks.map(v => ({ value: v })); },
          grid: { display: false, drawTicks: false }, border: { display: false },
          ticks: { padding: 0, font: tickFont, color: '#151515', maxRotation: 0, callback: v => v.toFixed(1) },
          title: polar
            ? { display: true, text: 'ν (log, Hz)', font: { family: 'DejaVu Sans', size: 18 }, color: '#151515', padding: { top: 0, bottom: 5 } }
            : { display: false }
        },
        y: {
          type: 'linear', min: yTicks[0], max: yTicks[yTicks.length - 1],
          afterFit: s => { s.width = 100; },
          afterBuildTicks: s => { s.ticks = yTicks.map(v => ({ value: v })); },
          grid: { display: false, drawTicks: false }, border: { display: false },
          ticks: { padding: 5, font: tickFont, color: '#151515', callback: v => String(v).replace('-', '\u2212') },
          title: polar
            ? { display: true, text: 'Polarization degree (%)', font: { family: 'Liberation Serif', size: 23 }, color: '#151515', padding: { top: 42, bottom: 0 } }
            : { display: false }
        }
      }
    },
    plugins: [errBars, frameTicks, boxLegend]
  });
}

panel({ L: 141, R: 805, T: 41, B: 364 }, false, sedSets(seg2SedSscEc, seg2SedSsc, seg2SedHad, seg2SedHyb, seg2SedMwl, seg2SedMwlErr));
panel({ L: 141, R: 805, T: 405, B: 729 }, true, polSets(seg2PolSscEc, seg2PolSsc, seg2PolHad, seg2PolHyb, seg2PolMwl, seg2PolMwlErr, seg2PolLimit));
panel({ L: 940, R: 1605, T: 41, B: 364 }, false, sedSets(obs4SedSscEc, obs4SedSsc, obs4SedHad, obs4SedHyb, obs4SedMwl, obs4SedMwlErr));
panel({ L: 940, R: 1605, T: 405, B: 729 }, true, polSets(obs4PolSscEc, obs4PolSsc, obs4PolHad, obs4PolHyb, obs4PolMwl, obs4PolMwlErr, obs4PolLimit));
panel({ L: 141, R: 805, T: 892, B: 1217 }, false, sedSets(seg3SedSscEc, seg3SedSsc, seg3SedHad, seg3SedHyb, seg3SedMwl, seg3SedMwlErr));
panel({ L: 141, R: 805, T: 1257, B: 1582 }, true, polSets(seg3PolSscEc, seg3PolSsc, seg3PolHad, seg3PolHyb, seg3PolMwl, seg3PolMwlErr, seg3PolLimit));

// keep justified lines on one line: shrink a justified line slightly if it would wrap
document.querySelectorAll('.j').forEach(el => {
  const lh = parseFloat(getComputedStyle(el).lineHeight);
  let fs = parseFloat(getComputedStyle(el).fontSize);
  while (el.offsetHeight > lh * 1.5 && fs > 10) {
    fs -= 0.25;
    el.style.fontSize = fs + 'px';
  }
});
</script>
</body>
</html>
